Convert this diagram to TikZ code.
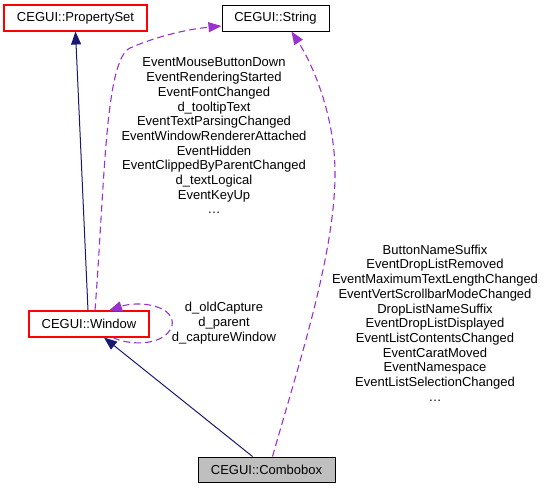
\documentclass[tikz,border=0pt]{standalone}
\usepackage{fontspec}
\setmainfont{Liberation Sans}
\usetikzlibrary{arrows.meta}
\definecolor{edgeblue}{HTML}{191970}
\definecolor{edgepurple}{HTML}{9A32CD}

\begin{document}
\begin{tikzpicture}[
  x=1pt, y=-1pt,
  font=\fontsize{13}{14.7}\selectfont,
  cls/.style={draw=black, line width=1pt, align=center, inner sep=0pt, minimum height=26pt},
  clsred/.style={draw=red, line width=1.1pt, align=center, inner sep=0pt, minimum height=26pt},
  clscur/.style={cls, fill=black!25},
  lbl/.style={align=center, inner sep=0pt},
  inh/.style={-{Triangle[length=13pt,width=10pt]}, line width=1pt, draw=edgeblue},
  use/.style={-{Triangle[length=13pt,width=10pt]}, line width=1.1pt, draw=edgepurple, dash pattern=on 7pt off 4pt},
]
\useasboundingbox (0,0) rectangle (545,488);
\node[clsred, minimum width=143pt] (pset) at (75.5,18)  {CEGUI::PropertySet};
\node[cls,    minimum width=107pt] (str)  at (275.5,18) {CEGUI::String};
\node[clsred, minimum width=120pt] (win)  at (89,324)   {CEGUI::Window};
\node[clscur, minimum width=137pt, minimum height=25pt] (cbox) at (266.5,469.5) {CEGUI::Combobox};
\node[lbl] (winstr) at (214,136) {EventMouseButtonDown\\EventRenderingStarted\\EventFontChanged\\d\_tooltipText\\EventTextParsingChanged\\EventWindowRendererAttached\\EventHidden\\EventClippedByParentChanged\\d\_textLogical\\EventKeyUp\\\dots};
\node[lbl] (winwin) at (224,323) {d\_oldCapture\\d\_parent\\d\_captureWindow};
\node[lbl] (cboxstr) at (435,323) {ButtonNameSuffix\\EventDropListRemoved\\EventMaximumTextLengthChanged\\EventVertScrollbarModeChanged\\DropListNameSuffix\\EventDropListDisplayed\\EventListContentsChanged\\EventCaratMoved\\EventNamespace\\EventListSelectionChanged\\\dots};
\draw[inh] ([xshift=-1pt]win.north) -- (pset.south);
\draw[inh] ([xshift=-14pt]cbox.north) -- ([xshift=15pt]win.south);
\draw[use] ([xshift=6pt]win.north) .. controls (105,180) and (105,60) .. (130,48)
  .. controls (160,35) and (190,29) .. ([yshift=-8pt]str.west);
\draw[use] ([xshift=24pt]win.south) .. controls (130,346) and (165,346) .. (172,326)
  .. controls (176,306) and (140,300) .. ([xshift=20pt]win.north);
\draw[use] ([xshift=6pt]cbox.north) .. controls (300,360) and (336,250) .. (335,170)
  .. controls (334,110) and (310,60) .. ([xshift=16pt]str.south);
\end{tikzpicture}
\end{document}
